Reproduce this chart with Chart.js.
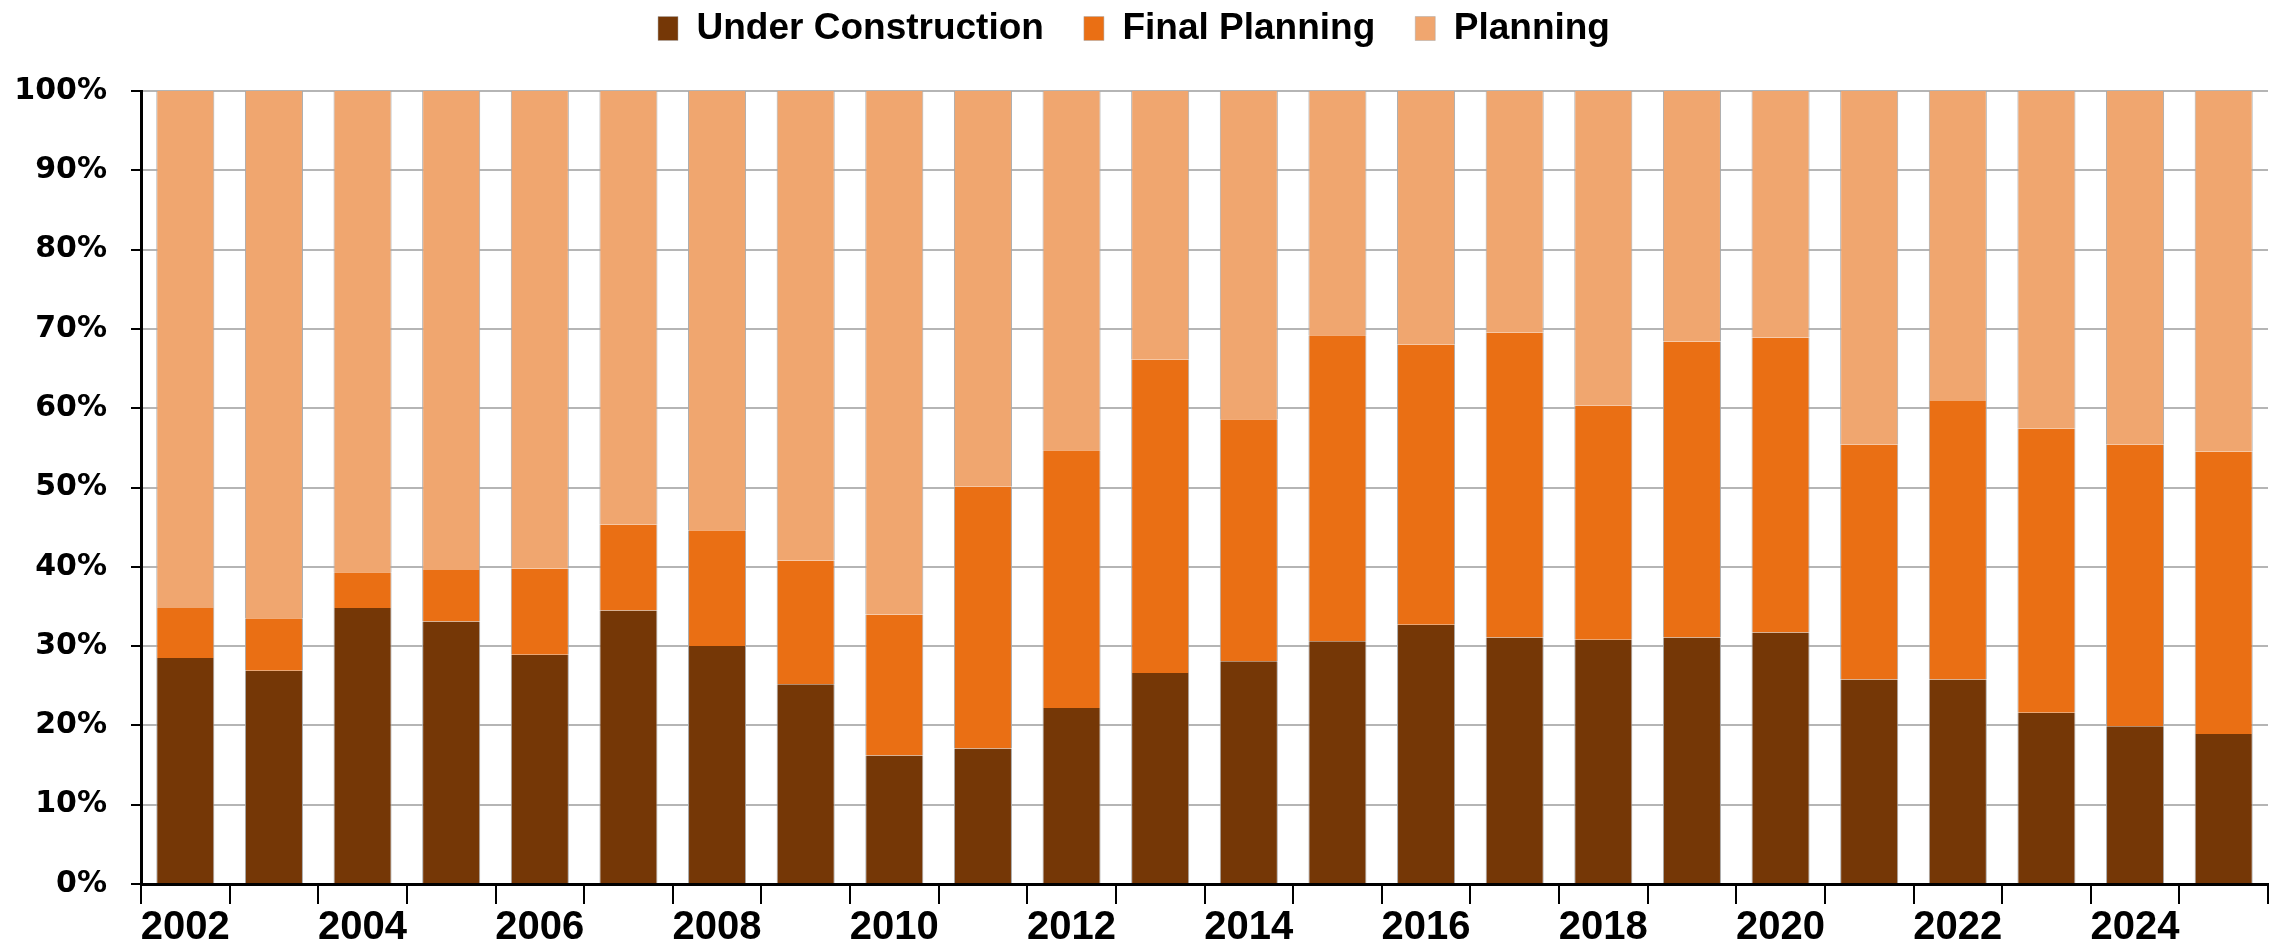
<!DOCTYPE html>
<html>
<head>
<meta charset="utf-8">
<script src="https://cdn.jsdelivr.net/npm/chart.js@4/dist/chart.umd.min.js"></script>
<style>
    html, body { margin: 0; padding: 0; background: #fff; }
    #wrap { width: 2275px; height: 948px; }
</style>
</head>
<body>
<div id="wrap"><canvas id="pipelineChart" width="2275" height="948"></canvas></div>
<script>
// --- Data (share of projects by stage, %) ---
const years = ['2002', '2003', '2004', '2005', '2006', '2007', '2008', '2009', '2010', '2011', '2012', '2013',
    '2014', '2015', '2016', '2017', '2018', '2019', '2020', '2021', '2022', '2023', '2024', '2025'];

const underConstruction = [28.5, 26.9, 34.8, 33.1, 28.9, 34.5, 30.0, 25.2, 16.2, 17.1, 22.2, 26.6,
    28.1, 30.6, 32.7, 31.1, 30.8, 31.1, 31.7, 25.8, 25.8, 21.6, 19.9, 18.9];

const finalPlanning = [6.3, 6.6, 4.5, 6.5, 10.9, 10.8, 14.6, 15.6, 17.8, 33.0, 32.5, 39.5,
    30.5, 38.6, 35.3, 38.4, 29.5, 37.3, 37.2, 29.6, 35.1, 35.8, 35.5, 35.6];

const planning = [65.2, 66.5, 60.7, 60.4, 60.2, 54.7, 55.4, 59.2, 66.0, 49.9, 45.3, 33.9,
    41.4, 30.8, 32.0, 30.5, 39.7, 31.6, 31.1, 44.6, 39.1, 42.6, 44.6, 45.5];

const yTicks = [0, 10, 20, 30, 40, 50, 60, 70, 80, 90, 100];

// --- Styling ---
const COLORS = {
    under: '#753706',
    final: '#EA6F14',
    plan: '#F0A66F',
    edge: '#a9a9a9',
    grid: '#b5b5b5'
};
const LABEL_FONT = "'Liberation Sans', Arial, sans-serif";
const HEAVY = "'DejaVu Sans', sans-serif";

function makeSet(label, data, color) {
    return {
        label: label,
        data: data,
        backgroundColor: color,
        borderColor: COLORS.edge,
        borderWidth: { left: 1, right: 1, top: 0, bottom: 0 },
        borderSkipped: false,
        categoryPercentage: 1.0,
        barPercentage: 0.655
    };
}

// leave some room between the legend row and the plot
const legendGap = {
    id: 'legendGap',
    beforeInit(chart) {
        const fit = chart.legend.fit;
        chart.legend.fit = function () {
            fit.bind(chart.legend)();
            this.height += 34;
        };
    }
};

const ctx = document.getElementById('pipelineChart').getContext('2d');
new Chart(ctx, {
    type: 'bar',
    data: {
        labels: years,
        datasets: [
            makeSet('Under Construction', underConstruction, COLORS.under),
            makeSet('Final Planning', finalPlanning, COLORS.final),
            makeSet('Planning', planning, COLORS.plan)
        ]
    },
    plugins: [legendGap],
    options: {
        responsive: false,
        animation: false,
        layout: { padding: { left: 0, right: 7, top: -30, bottom: -4 } },
        plugins: {
            tooltip: { enabled: false },
            legend: {
                position: 'top',
                labels: {
                    color: '#000',
                    boxWidth: 20,
                    boxHeight: 24,
                    padding: 40,
                    font: { family: LABEL_FONT, size: 37, weight: 'bold' }
                }
            }
        },
        scales: {
            x: {
                stacked: true,
                offset: true,
                border: { display: true, color: '#000', width: 3 },
                grid: {
                    offset: true,
                    drawOnChartArea: false,
                    drawTicks: true,
                    tickLength: 20,
                    tickColor: '#000',
                    lineWidth: 2
                },
                ticks: {
                    autoSkip: false,
                    maxRotation: 0,
                    padding: 0,
                    color: '#000',
                    font: { family: LABEL_FONT, size: 40, weight: 'bold' },
                    callback: function (val, i) { return i % 2 === 0 ? years[i] : ''; }
                }
            },
            y: {
                stacked: true,
                min: 0,
                max: 100,
                afterBuildTicks: (axis) => { axis.ticks = yTicks.map(v => ({ value: v })); },
                afterFit: (axis) => { axis.width = 141; },
                border: { display: true, color: '#000', width: 3 },
                grid: {
                    color: COLORS.grid,
                    lineWidth: 2,
                    tickLength: 10,
                    tickColor: '#000'
                },
                ticks: {
                    padding: 24,
                    color: '#000',
                    font: { family: HEAVY, size: 30, weight: 'bold' },
                    callback: v => v + '%'
                }
            }
        }
    }
});
</script>
</body>
</html>
